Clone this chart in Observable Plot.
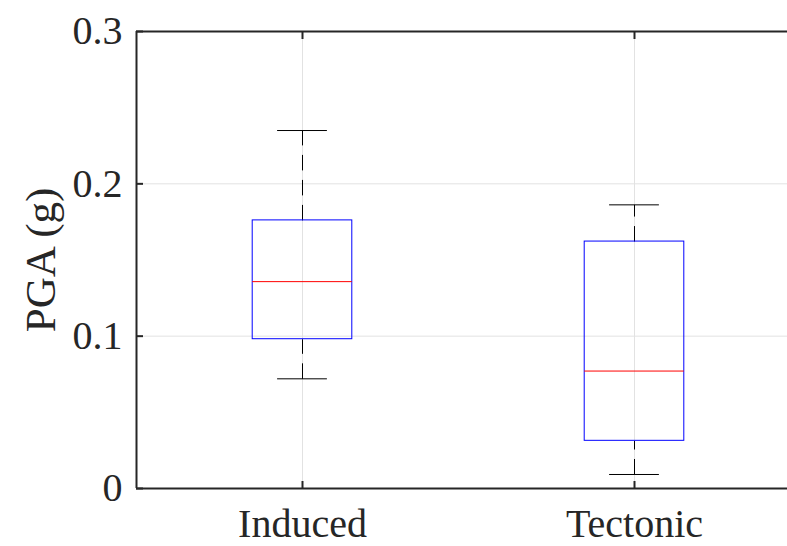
<!DOCTYPE html>
<html>
<head>
<meta charset="utf-8">
<script src="https://cdn.jsdelivr.net/npm/d3@7"></script>
<script src="https://cdn.jsdelivr.net/npm/@observablehq/plot@0.6"></script>
<style>
  html, body { margin: 0; padding: 0; background: #fff; overflow: hidden; }
  #chart { width: 787px; height: 546px; overflow: hidden; }
</style>
</head>
<body>
<div id="chart"></div>
<script>
const categories = ["Induced", "Tectonic"];
const lowerWhisker = [0.072, 0.0092];
const q1 = [0.098, 0.0313];
const median = [0.1358, 0.0771];
const q3 = [0.176, 0.1621];
const upperWhisker = [0.235, 0.1862];
const yTicks = [0, 0.1, 0.2, 0.3];
const yLabel = "PGA (g)";

const rows = categories.map((c, i) => ({
  name: c, pos: i + 1,
  lo: lowerWhisker[i], q1: q1[i], med: median[i], q3: q3[i], hi: upperWhisker[i]
}));
const xTicks = rows.map(r => r.pos);
const boxHalf = 0.15, capHalf = 0.075;
const ink = "#262626";
const font = "'Liberation Serif', 'Times New Roman', serif";

const chart = Plot.plot({
  width: 787,
  height: 546,
  marginLeft: 136,
  marginRight: -13,
  marginTop: 31,
  marginBottom: 58,
  style: { fontFamily: font, fontSize: "40px", color: ink, background: "white", overflow: "hidden" },
  x: { type: "linear", domain: [0.5, 2.5], range: [136, 800] },
  y: { domain: [0, 0.3], range: [488, 31] },
  marks: [
    Plot.gridX(xTicks, { stroke: "#e2e2e2", strokeOpacity: 1 }),
    Plot.gridY(yTicks, { stroke: "#e2e2e2", strokeOpacity: 1 }),
    // whiskers (dashed)
    Plot.link(rows, { x1: "pos", x2: "pos", y1: "lo", y2: "q1", stroke: "black", strokeWidth: 1, strokeDasharray: "15.5,9.5" }),
    Plot.link(rows, { x1: "pos", x2: "pos", y1: "q3", y2: "hi", stroke: "black", strokeWidth: 1, strokeDasharray: "15.5,9.5" }),
    // caps
    Plot.ruleY(rows, { y: "lo", x1: d => d.pos - capHalf, x2: d => d.pos + capHalf, stroke: "black", strokeWidth: 1 }),
    Plot.ruleY(rows, { y: "hi", x1: d => d.pos - capHalf, x2: d => d.pos + capHalf, stroke: "black", strokeWidth: 1 }),
    // boxes
    Plot.rect(rows, { x1: d => d.pos - boxHalf, x2: d => d.pos + boxHalf, y1: "q1", y2: "q3", fill: "none", stroke: "#0000ff", strokeWidth: 1 }),
    // medians
    Plot.ruleY(rows, { y: "med", x1: d => d.pos - boxHalf, x2: d => d.pos + boxHalf, stroke: "#ff0000", strokeWidth: 1 }),
    // spines
    Plot.ruleX([0.5, 2.5], { stroke: ink, strokeWidth: 2 }),
    Plot.ruleY([0, 0.3], { stroke: ink, strokeWidth: 2 }),
    // inward ticks
    Plot.axisY(yTicks, { anchor: "left", tickSize: 7, dx: 7, text: null, label: null, stroke: ink, strokeWidth: 2 }),
    Plot.axisX(xTicks, { anchor: "bottom", tickSize: 7, dy: -7, text: null, label: null, stroke: ink, strokeWidth: 2 }),
    Plot.axisX(xTicks, { anchor: "top", tickSize: 7, dy: 7, text: null, label: null, stroke: ink, strokeWidth: 2 }),
    // tick labels
    Plot.axisY(yTicks, { anchor: "left", tickSize: 0, tickPadding: 14, tickFormat: d => String(d), label: null, fontSize: 40, fill: ink }),
    Plot.axisX(xTicks, { anchor: "bottom", tickSize: 0, tickPadding: 20, tickFormat: d => categories[d - 1], label: null, fontSize: 40, fill: ink }),
    // y label
    Plot.text([yLabel], { text: d => d, frameAnchor: "left", textAnchor: "middle", rotate: -90, dx: -95, fontSize: 43, fill: ink })
  ]
});
document.getElementById("chart").appendChild(chart);
</script>
</body>
</html>
